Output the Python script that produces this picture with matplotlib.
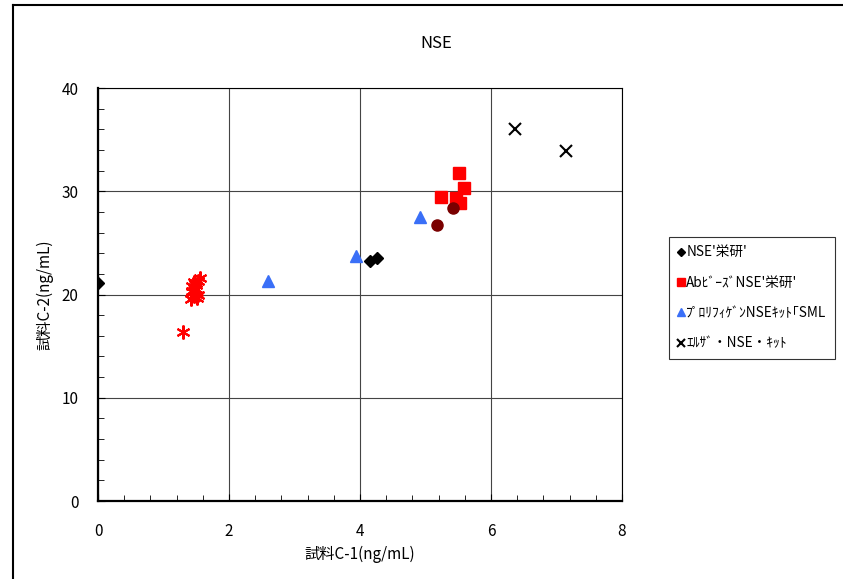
import matplotlib
matplotlib.use("Agg")
import matplotlib.pyplot as plt
from matplotlib.lines import Line2D

plt.rcParams['font.family'] = ['Noto Sans CJK JP', 'DejaVu Sans']

# --- podatki ---
eiken_x = [0.0, 4.15, 4.26]
eiken_y = [21.1, 23.2, 23.5]

beads_x = [5.51, 5.59, 5.23, 5.47, 5.52]
beads_y = [31.8, 30.3, 29.4, 29.3, 28.9]

extra_x = [5.17, 5.42]
extra_y = [26.7, 28.4]

prolif_x = [2.60, 3.94, 4.92]
prolif_y = [21.3, 23.7, 27.5]

elisa_x = [6.37, 7.15]
elisa_y = [36.0, 33.9]

star_x = [1.30, 1.42, 1.45, 1.48, 1.50, 1.52, 1.55, 1.44, 1.47, 1.53, 1.49, 1.43, 1.51, 1.46]
star_y = [16.4, 19.6, 20.2, 21.0, 20.5, 21.3, 21.6, 20.8, 19.9, 20.0, 20.9, 20.3, 19.7, 21.2]

labels = ["NSE'栄研'", "AbﾋﾞｰｽﾞNSE'栄研'", "ﾌﾟﾛﾘﾌｨｹﾞﾝNSEｷｯﾄ｢SML", "ｴﾙｻﾞ・NSE・ｷｯﾄ"]

fig = plt.figure(figsize=(8.43, 5.79), dpi=100)
ax = fig.add_axes([0.1163, 0.1347, 0.6215, 0.7133])

h1, = ax.plot(eiken_x, eiken_y, 'D', color='black', ms=6, ls='none')
h2, = ax.plot(beads_x, beads_y, 's', color='red', ms=8, ls='none')
h3, = ax.plot(prolif_x, prolif_y, '^', color='#3a6ff7', ms=8, ls='none')
h4, = ax.plot(elisa_x, elisa_y, 'x', color='black', ms=8, mew=1.5, ls='none')
ax.plot(extra_x, extra_y, 'o', color='#7a0000', ms=8, ls='none')
ax.plot(star_x, star_y, marker=(6, 2, 0), color='red', ms=10, mew=1.5, ls='none')

ax.set_xlim(0, 8)
ax.set_ylim(0, 40)
ax.set_xticks([0, 2, 4, 6, 8])
ax.set_yticks([0, 10, 20, 30, 40])
ax.set_xticks([i * 0.4 for i in range(21)], minor=True)
ax.set_yticks([i * 2 for i in range(21)], minor=True)
ax.grid(True, which='major', color='#444444', lw=0.8)
ax.set_axisbelow(True)
ax.tick_params(which='both', direction='in', labelsize=11)
ax.tick_params(which='major', length=5)
ax.tick_params(which='minor', length=4)
ax.tick_params(axis='x', pad=16)
ax.tick_params(axis='y', pad=14)
for s in ax.spines.values():
    s.set_color('black')
ax.spines['left'].set_linewidth(1.6)
ax.spines['bottom'].set_linewidth(1.6)

ax.set_xlabel("試料C-1(ng/mL)", fontsize=11, labelpad=4)
ax.set_ylabel("試料C-2(ng/mL)", fontsize=11, labelpad=6)
fig.text(0.518, 0.925, "NSE", ha='center', va='center', fontsize=12)

leg = fig.legend([h1, h2, h3, h4], labels, loc='upper left',
                 bbox_to_anchor=(0.785, 0.602), fontsize=9.8,
                 frameon=True, fancybox=False, handlelength=0.6,
                 handletextpad=0.1, labelspacing=1.2, borderpad=0.6,
                 markerscale=0.75)
leg.get_frame().set_edgecolor('black')
leg.get_frame().set_linewidth(0.8)

# okvir slike
fig.add_artist(Line2D([0.0154, 0.0154], [0, 0.991], color='black', lw=1.5,
                      transform=fig.transFigure))
fig.add_artist(Line2D([0.0154, 1.0], [0.991, 0.991], color='black', lw=1.5,
                      transform=fig.transFigure))

fig.savefig("out.png", dpi=100)
